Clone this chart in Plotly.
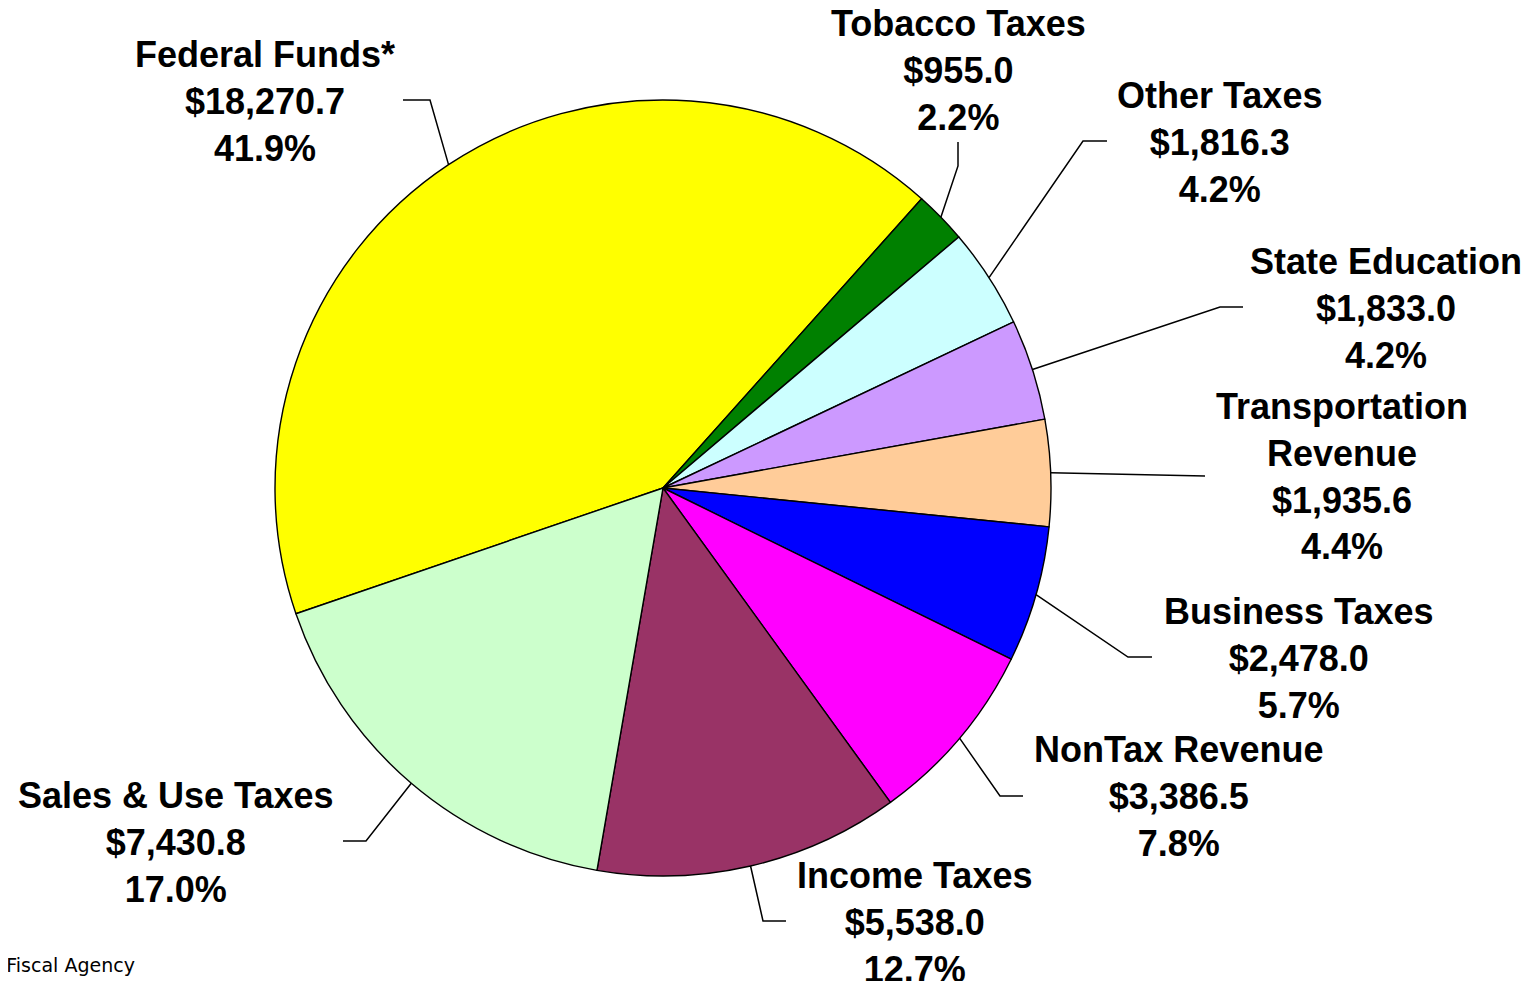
import math
import plotly.graph_objects as go

# ---- data ----
categories = ["Federal Funds*", "Tobacco Taxes", "Other Taxes", "State Education",
              "Transportation<br>Revenue", "Business Taxes", "NonTax Revenue",
              "Income Taxes", "Sales & Use Taxes"]
values = [18270.7, 955.0, 1816.3, 1833.0, 1935.6, 2478.0, 3386.5, 5538.0, 7430.8]
colors = ["#FFFF00", "#008000", "#CCFFFF", "#CC99FF", "#FFCC99",
          "#0000FF", "#FF00FF", "#993366", "#CCFFCC"]
source_text = "Source: House Fiscal Agency"

# ---- layout constants (pixels in the page) ----
W, H = 1536, 981
PAGE_OFF = 8  # browser body margin
CX, CY, R = 663, 488, 388
FED_END_ANGLE = 41.8  # clockwise from 12 o'clock, where first slice ends

# label block centres (px) and leader-line bend/end points (px)
label_pos = [(265, 102), (958, 70), (1219, 142), (1386, 308), (1342, 476),
             (1298, 658), (1178, 796), (914, 922), (176, 842)]
leader_pts = [
    [(430, 100), (403, 100)],
    [(958, 166), (958, 142)],
    [(1083, 141), (1107, 141)],
    [(1220, 307), (1243, 307)],
    [(1205, 476)],
    [(1128, 657), (1152, 657)],
    [(1000, 796), (1023, 796)],
    [(763, 921), (786, 921)],
    [(366, 841), (343, 841)],
]

def px(x):
    return (x - PAGE_OFF) / W

def py(y):
    return 1 - (y - PAGE_OFF) / H

total = sum(values)
rotation = FED_END_ANGLE - values[0] / total * 360

fig = go.Figure()
fig.add_trace(go.Pie(
    labels=categories, values=values, sort=False, direction="clockwise",
    rotation=rotation, textinfo="none", hoverinfo="label+value+percent",
    marker=dict(colors=colors, line=dict(color="black", width=1.4)),
    domain=dict(x=[px(CX - R), px(CX + R)], y=[py(CY + R), py(CY - R)]),
    showlegend=False,
))

shapes = []
annotations = []
cum = 0.0
for i, (cat, v) in enumerate(zip(categories, values)):
    mid = rotation + (cum + v / 2) / total * 360
    cum += v
    a = math.radians(mid)
    sx, sy = CX + R * math.sin(a), CY - R * math.cos(a)
    pts = [(sx, sy)] + leader_pts[i]
    path = "M " + " L ".join(f"{px(x):.5f},{py(y):.5f}" for x, y in pts)
    shapes.append(dict(type="path", path=path, xref="paper", yref="paper",
                       line=dict(color="black", width=1.5)))
    pct = v / total * 100
    txt = f"<b>{cat}<br>${v:,.1f}<br>{pct:.1f}%</b>"
    lx, ly = label_pos[i]
    annotations.append(dict(text=txt, x=px(lx), y=py(ly), xref="paper", yref="paper",
                            xanchor="center", yanchor="middle", align="center",
                            showarrow=False,
                            font=dict(family="Liberation Sans", size=36, color="black")))

annotations.append(dict(text=source_text, x=px(137), y=py(965), xref="paper", yref="paper",
                        xanchor="right", yanchor="middle", showarrow=False,
                        font=dict(family="DejaVu Sans", size=19, color="black")))

fig.update_layout(width=W, height=H, margin=dict(l=0, r=0, t=0, b=0),
                  paper_bgcolor="white", plot_bgcolor="white",
                  shapes=shapes, annotations=annotations)
fig.write_html("out.html")
